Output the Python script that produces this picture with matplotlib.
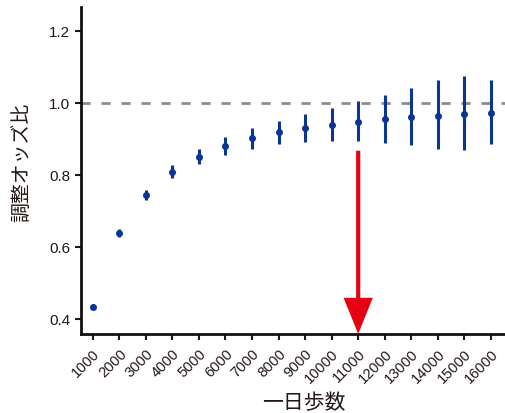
import matplotlib
matplotlib.use("Agg")
import matplotlib.pyplot as plt

plt.rcParams['font.family'] = ['Liberation Sans', 'Noto Sans CJK JP', 'DejaVu Sans']

steps = ["1000", "2000", "3000", "4000", "5000", "6000", "7000", "8000",
         "9000", "10000", "11000", "12000", "13000", "14000", "15000", "16000"]
odds = [0.434, 0.638, 0.744, 0.809, 0.851, 0.881, 0.902, 0.918,
        0.931, 0.940, 0.948, 0.955, 0.960, 0.964, 0.968, 0.971]
lower = [0.429, 0.626, 0.731, 0.790, 0.829, 0.856, 0.873, 0.886,
         0.892, 0.895, 0.893, 0.889, 0.884, 0.872, 0.869, 0.887]
upper = [0.440, 0.650, 0.757, 0.828, 0.873, 0.906, 0.931, 0.950,
         0.970, 0.986, 1.005, 1.022, 1.041, 1.065, 1.076, 1.063]
arrow_at = "11000"

blue = "#0a3592"
red = "#e60012"
ink = "#231815"

fig = plt.figure(figsize=(5.05, 4.14), dpi=100)
ax = fig.add_axes([0.160, 0.191, 0.840, 0.790])

x = list(range(1, len(steps) + 1))
yerr = [[o - l for o, l in zip(odds, lower)], [u - o for o, u in zip(odds, upper)]]
ax.axhline(1.0, color="#8c8c8c", lw=2.0, ls=(0, (3.3, 3.9)), zorder=1)
ax.errorbar(x, odds, yerr=yerr, fmt="o", color=blue, ms=4, elinewidth=2.2,
            capsize=0, zorder=3)

# red arrow pointing at 11000 steps
xa = steps.index(arrow_at) + 1
ax.annotate("", xy=(xa, 0.358), xytext=(xa, 0.867), xycoords="data",
            arrowprops=dict(width=3.0, headwidth=21, headlength=26,
                            facecolor=red, edgecolor="none", shrink=0),
            annotation_clip=False, zorder=5)

ax.set_xlim(0.55, 16.53)
ax.set_ylim(0.358, 1.267)
ax.set_xticks(x)
ax.set_xticklabels(steps, rotation=45, ha="right", rotation_mode="anchor",
                   fontsize=10.5, color=ink)
ax.set_yticks([0.4, 0.6, 0.8, 1.0, 1.2])
ax.set_yticklabels(["0.4", "0.6", "0.8", "1.0", "1.2"], fontsize=11, color=ink)
ax.tick_params(direction="out", length=4, width=1.5, color=ink)
ax.tick_params(axis="x", pad=5)

for s in ("top", "right"):
    ax.spines[s].set_visible(False)
for s in ("left", "bottom"):
    ax.spines[s].set_linewidth(2)
    ax.spines[s].set_color("#111111")

ax.set_xlabel("一日歩数", fontsize=15, color=ink, va="center")
ax.xaxis.set_label_coords(0.526, -0.209)
ax.set_ylabel("調整オッズ比", fontsize=14.3, color=ink, va="center")
ax.yaxis.set_label_coords(-0.138, 0.529)

fig.savefig("out.png", dpi=100)
